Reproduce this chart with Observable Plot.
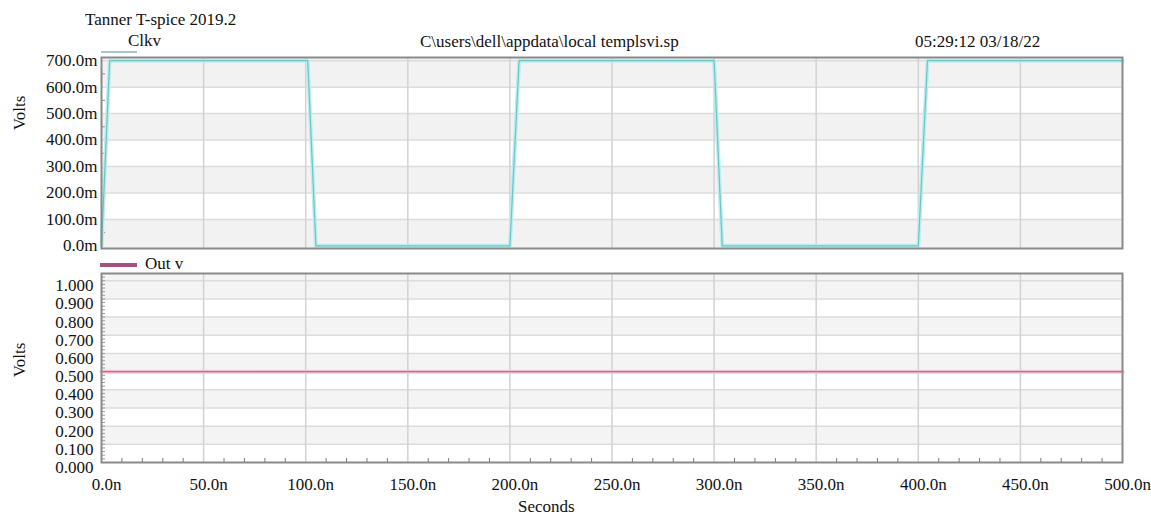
<!DOCTYPE html>
<html>
<head>
<meta charset="utf-8">
<script src="https://cdn.jsdelivr.net/npm/d3@7"></script>
<script src="https://cdn.jsdelivr.net/npm/@observablehq/plot@0.6"></script>
<style>
  html, body { margin: 0; padding: 0; background: #fff; }
  #wrap { position: relative; width: 1151px; height: 515px; overflow: hidden; background: #fff;
          font-family: "Liberation Serif", "Times New Roman", serif; color: #111; }
  #wrap svg { position: absolute; left: 0; font-family: "Liberation Serif", "Times New Roman", serif !important; }
  #wrap svg text { font-family: "Liberation Serif", "Times New Roman", serif !important; fill: #111; }
  .t { position: absolute; font-size: 17px; line-height: 17px; white-space: nowrap; }
  .sw { position: absolute; }
</style>
</head>
<body>
<div id="wrap"></div>
<script>
// ---- Data ----
// Clock waveform (time in ns, value in V)
const clkTimeNs = [0, 4, 101, 105, 200, 204.5, 300, 304, 400, 404.5, 500];
const clkVolts  = [0, 0.7, 0.7, 0, 0, 0.7, 0.7, 0, 0, 0.7, 0.7];
// Output waveform
const outTimeNs = [0, 500];
const outVolts  = [0.5, 0.5];
// Axis ticks
const xTicksNs = [0, 50, 100, 150, 200, 250, 300, 350, 400, 450, 500];
const topYTicks = [0, 0.1, 0.2, 0.3, 0.4, 0.5, 0.6, 0.7];
const bottomYTicks = [0, 0.1, 0.2, 0.3, 0.4, 0.5, 0.6, 0.7, 0.8, 0.9, 1.0];
// Texts
const titleText = "Tanner T-spice 2019.2";
const fileText = "C\\users\\dell\\appdata\\local templsvi.sp";
const dateText = "05:29:12 03/18/22";
const topSeries = "Clkv";
const bottomSeries = "Out v";
const yLabel = "Volts";
const xLabel = "Seconds";

const clk = clkTimeNs.map((t, i) => ({t, v: clkVolts[i]}));
const out = outTimeNs.map((t, i) => ({t, v: outVolts[i]}));

const topDomain = [-0.01, 0.712];
const botDomain = [0, 1.04];
const topBands = [[topDomain[0], 0.1], [0.2, 0.3], [0.4, 0.5], [0.6, topDomain[1]]];
const botBands = [[0.1, 0.2], [0.3, 0.4], [0.5, 0.6], [0.7, 0.8], [0.9, botDomain[1]]];
const minorXTicks = d3.range(10, 500, 10).filter(d => d % 50 !== 0);
const minorYBottom = d3.range(0.02, 1.04, 0.02);
const minorYTop = d3.range(0.05, 0.7, 0.1);

const wrap = document.getElementById("wrap");
const serif = "'Liberation Serif', 'Times New Roman', serif";
const fontStyle = {fontFamily: serif, fontSize: "17px", color: "#111", background: "transparent", overflow: "visible"};

const topPlot = Plot.plot({
  width: 1151, height: 260,
  marginLeft: 101, marginRight: 29, marginTop: 57, marginBottom: 12,
  style: fontStyle,
  x: {domain: [0, 500], axis: null},
  y: {domain: topDomain, axis: null},
  marks: [
    Plot.rect(topBands, {x1: () => 0, x2: () => 500, y1: d => d[0], y2: d => d[1], fill: "#f2f2f2"}),
    Plot.ruleY(topYTicks.slice(1), {y: d => d, stroke: "#dcdcdc", strokeWidth: 1.5}),
    Plot.ruleX(xTicksNs.slice(1, -1), {x: d => d, stroke: "#d2d2d2", strokeWidth: 1.5}),
    Plot.ruleY(minorYTop, {y: d => d, x1: () => 0, x2: () => 2, stroke: "#8a8a8a"}),
    Plot.line(clk, {x: "t", y: "v", stroke: "#bdeeee", strokeWidth: 4}),
    Plot.line(clk, {x: "t", y: "v", stroke: "#6cc4c6", strokeWidth: 1.2}),
    Plot.frame({stroke: "#8a8a8a", strokeWidth: 2}),
    Plot.axisY(topYTicks, {tickSize: 0, tickPadding: 4, fontSize: 17, fontFamily: serif,
      tickFormat: d => (d * 1000).toFixed(1) + "m", label: null})
  ]
});
topPlot.style.top = "0px";
wrap.appendChild(topPlot);

const botPlot = Plot.plot({
  width: 1151, height: 255,
  marginLeft: 101, marginRight: 29, marginTop: 13, marginBottom: 53,
  style: fontStyle,
  x: {domain: [0, 500], axis: null},
  y: {domain: botDomain, axis: null},
  marks: [
    Plot.rect(botBands, {x1: () => 0, x2: () => 500, y1: d => d[0], y2: d => d[1], fill: "#f4f4f4"}),
    Plot.ruleY(bottomYTicks.slice(1), {y: d => d, stroke: "#dcdcdc", strokeWidth: 1.5}),
    Plot.ruleX(xTicksNs.slice(1, -1), {x: d => d, stroke: "#d2d2d2", strokeWidth: 1.5}),
    Plot.ruleX(minorXTicks, {x: d => d, y1: () => 0, y2: () => 0.022, stroke: "#7a7a7a"}),
    Plot.ruleY(minorYBottom, {y: d => d, x1: () => 0, x2: () => 2, stroke: "#9a9a9a"}),
    Plot.line(out, {x: "t", y: "v", stroke: "#f4c3d4", strokeWidth: 4}),
    Plot.line(out, {x: "t", y: "v", stroke: "#cf5f8d", strokeWidth: 1.2}),
    Plot.frame({stroke: "#8a8a8a", strokeWidth: 2}),
    Plot.axisY(bottomYTicks, {tickSize: 0, tickPadding: 8, dy: 5, fontSize: 17, fontFamily: serif,
      tickFormat: d => d.toFixed(3), label: null}),
    Plot.axisX(xTicksNs, {tickSize: 0, tickPadding: 15, dx: 5, fontSize: 17, fontFamily: serif,
      tickFormat: d => d.toFixed(1) + "n", label: null})
  ]
});
botPlot.style.top = "260px";
wrap.appendChild(botPlot);

// ---- Text and legend overlays ----
function addText(txt, left, baseline, extra) {
  const d = document.createElement("div");
  d.className = "t";
  d.textContent = txt;
  d.style.left = left + "px";
  d.style.top = (baseline - 14) + "px";
  if (extra) Object.assign(d.style, extra);
  wrap.appendChild(d);
  return d;
}
function addSwatch(left, top, w, h, color) {
  const s = document.createElement("div");
  s.className = "sw";
  Object.assign(s.style, {left: left + "px", top: top + "px", width: w + "px", height: h + "px", background: color});
  wrap.appendChild(s);
}
addText(titleText, 85, 25);
addText(topSeries, 128, 46);
addSwatch(101, 51, 36, 2, "#a9c3cf");
addText(fileText, 420, 47);
addText(dateText, 915, 47);
addText(bottomSeries, 145, 269);
addSwatch(100, 263, 37, 3.5, "#a8507e");
addText(xLabel, 518, 512);
// rotated y labels
[113, 360].forEach(cy => {
  const d = document.createElement("div");
  d.className = "t";
  d.textContent = yLabel;
  Object.assign(d.style, {left: "19px", top: cy + "px", transform: "translate(-50%, -50%) rotate(-90deg)"});
  wrap.appendChild(d);
});
</script>
</body>
</html>
